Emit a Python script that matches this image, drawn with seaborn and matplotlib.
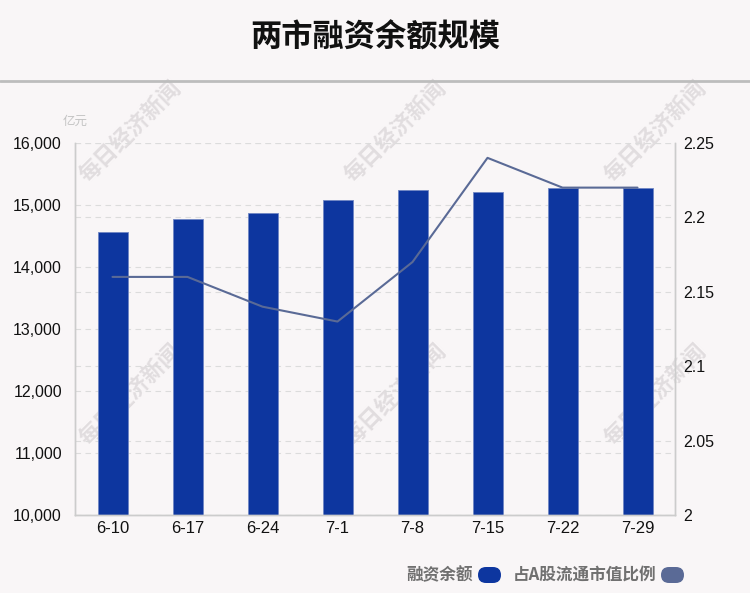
import matplotlib
import matplotlib.pyplot as plt
import matplotlib.transforms as mtransforms
import seaborn as sns
from matplotlib.patches import FancyBboxPatch

matplotlib.use('Agg')

# ==========================================================
# DATA
# ==========================================================
dates = ["6-10", "6-17", "6-24", "7-1", "7-8", "7-15", "7-22", "7-29"]
balance = [14570, 14770, 14870, 15075, 15237, 15210, 15275, 15280]
ratio = [2.16, 2.16, 2.14, 2.13, 2.17, 2.24, 2.22, 2.22]

left_ticks = [10000, 11000, 12000, 13000, 14000, 15000, 16000]
right_ticks = [2.0, 2.05, 2.1, 2.15, 2.2, 2.25]
right_labels = ["2", "2.05", "2.1", "2.15", "2.2", "2.25"]

title = "两市融资余额规模"
unit = "亿元"
legend_names = ["融资余额", "占A股流通市值比例"]
watermark = "每日经济新闻"

# ==========================================================
# STYLE
# ==========================================================
BG = "#f9f6f7"
BAR_COLOR = "#0d369f"
LINE_COLOR = "#5a6a96"
GRID_COLOR = "#dcdcdc"
CJK = ["Noto Sans CJK SC", "DejaVu Sans"]

sns.set_theme(style="white")
plt.rcParams["font.family"] = ["Liberation Sans", "Noto Sans CJK SC", "DejaVu Sans"]

fig = plt.figure(figsize=(7.5, 5.93), dpi=100, facecolor=BG)
ax = fig.add_axes([0.1, 0.1315, 0.8, 0.6274])
ax.patch.set_visible(False)

# watermarks, behind the plot
for wx, wy in ((130, 132), (395, 132), (655, 132), (130, 395), (395, 395), (655, 395)):
    fig.text(wx / 750, 1 - wy / 593, watermark, ha="center", va="center",
             rotation=45, fontsize=16, fontweight="bold", family=CJK,
             color="#e1dddf", zorder=-1)

# bars
sns.barplot(x=dates, y=balance, color=BAR_COLOR, width=0.4, ax=ax,
            edgecolor="#6f86c4", linewidth=0.6, saturation=1, zorder=2)
ax.set_ylim(10000, 16000)
ax.set_xlim(-0.5, len(dates) - 0.5)
ax.set_yticks(left_ticks)
ax.set_yticklabels([f"{v:,}" for v in left_ticks], fontsize=11.5, color="#111111")
ax.tick_params(axis="x", labelsize=12, colors="#111111", length=0, pad=4)
ax.tick_params(axis="y", length=0, pad=9.4)
for v in left_ticks:
    ax.axhline(v, color=GRID_COLOR, lw=0.8, ls=(0, (5, 4)), zorder=0)

# ratio line on second axis
ax2 = ax.twinx()
sns.lineplot(x=dates, y=ratio, color=LINE_COLOR, lw=1.5, ax=ax2, sort=False)
ax2.set_ylim(2.0, 2.25)
ax2.set_yticks(right_ticks)
ax2.set_yticklabels(right_labels, fontsize=11.5, color="#111111")
ax2.tick_params(axis="y", length=0, pad=5.8)
ax2.set_xlim(-0.5, len(dates) - 0.5)

# right-axis grid drawn on the bar axes so it stays behind the bars
blend = mtransforms.blended_transform_factory(ax.transAxes, ax2.transData)
for v in right_ticks:
    ax.plot([0, 1], [v, v], transform=blend, color=GRID_COLOR, lw=0.8,
            ls=(0, (5, 4)), zorder=0)

for a in (ax, ax2):
    a.set_xlabel("")
    a.set_ylabel("")
    a.spines["top"].set_visible(False)
    for s in ["left", "right", "bottom"]:
        a.spines[s].set_color("#cccccc")
        a.spines[s].set_linewidth(1)

# title and separator
fig.text(0.5, 0.936, title, ha="center", va="center", fontsize=22.5,
         fontweight="bold", family=CJK, color="#111111")
fig.add_artist(plt.Line2D([0, 1], [0.863, 0.863], color="#bdbdbd", lw=2))
fig.text(0.1, 0.796, unit, ha="center", va="center", fontsize=9,
         family=CJK, color="#c4c4c4")

# legend
ly = 1 - 575 / 593
fig.text(473 / 750, ly, legend_names[0], ha="right", va="center", fontsize=12,
         fontweight="bold", family=CJK, color="#707070")
fig.text(656 / 750, ly, legend_names[1], ha="right", va="center", fontsize=12,
         fontweight="bold", family=CJK, color="#707070")
for x0, c in ((478, BAR_COLOR), (661, LINE_COLOR)):
    fig.add_artist(FancyBboxPatch((x0 / 750, ly - 8 / 593), 23 / 750, 16 / 593,
                                  boxstyle="round,pad=0,rounding_size=0.0107",
                                  transform=fig.transFigure, facecolor=c,
                                  edgecolor="none", mutation_aspect=750 / 593))

fig.savefig("out.png", dpi=100, facecolor=BG)
